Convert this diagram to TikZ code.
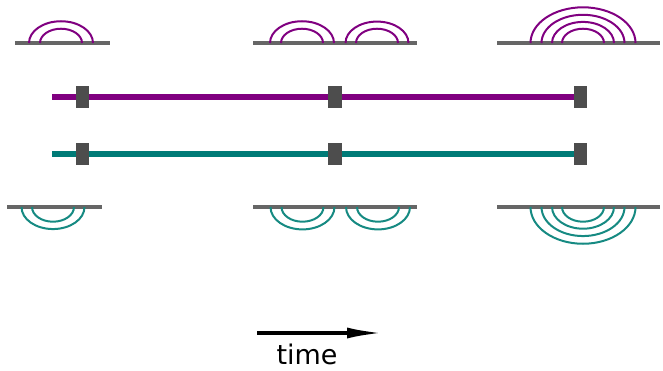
\documentclass[tikz,border=0pt]{standalone}
\usepackage{fontspec}
\setmainfont{DejaVu Sans}
\usetikzlibrary{arrows.meta,backgrounds}
\definecolor{pur}{HTML}{800080}
\definecolor{tea}{HTML}{007B77}
\definecolor{teaarc}{HTML}{168A82}
\definecolor{base}{HTML}{666666}
\definecolor{blk}{HTML}{4D4D4D}
\tikzset{
  baseln/.style={draw=base,line width=3.5pt},
  parc/.style={draw=pur,line width=2pt},
  tarc/.style={draw=teaarc,line width=2pt},
  marker/.style={fill=blk,draw=none,minimum width=13.5pt,minimum height=22pt,inner sep=0pt},
  pbar/.style={draw=pur,line width=6pt},
  tbar/.style={draw=tea,line width=6pt},
}
\begin{document}
\begin{tikzpicture}[x=1pt,y=-1pt]
\useasboundingbox (0,0) rectangle (663,370);
% top arcs (purple)
\draw[baseln] (15,43) -- (110,43);
\foreach \cx/\r in {61/32,61/21}{\draw[parc] (\cx+\r,43) arc[start angle=0,end angle=-180,x radius=\r,y radius=0.68*\r];}
\draw[baseln] (253,43) -- (417,43);
\foreach \cx/\r in {302/32,302/21,377/31.5,377/21}{\draw[parc] (\cx+\r,43) arc[start angle=0,end angle=-180,x radius=\r,y radius=0.68*\r];}
\draw[baseln] (497,43) -- (660,43);
\foreach \cx/\r in {583/52.5,583/41.5,583/31,583/21}{\draw[parc] (\cx+\r,43) arc[start angle=0,end angle=-180,x radius=\r,y radius=0.68*\r];}
% bottom arcs (teal)
\draw[baseln] (7,207) -- (102,207);
\foreach \cx/\r in {53/31.5,53/21}{\draw[tarc] (\cx+\r,207) arc[start angle=0,end angle=180,x radius=\r,y radius=0.7*\r];}
\draw[baseln] (253,207) -- (417,207);
\foreach \cx/\r in {302.5/32,302.5/21,378/32,378/21}{\draw[tarc] (\cx+\r,207) arc[start angle=0,end angle=180,x radius=\r,y radius=0.7*\r];}
\draw[baseln] (497,207) -- (660,207);
\foreach \cx/\r in {583/52.5,583/41.5,583/31,583/21}{\draw[tarc] (\cx+\r,207) arc[start angle=0,end angle=180,x radius=\r,y radius=0.7*\r];}
% timelines
\coordinate (p0) at (52,97);
\coordinate (t0) at (52,154);
\node[marker] (p1) at (82.5,97) {};
\node[marker] (p2) at (335,97) {};
\node[marker] (p3) at (580.5,97) {};
\node[marker] (t1) at (82.5,154) {};
\node[marker] (t2) at (335,154) {};
\node[marker] (t3) at (580.5,154) {};
\begin{pgfonlayer}{background}
\draw[pbar] (p0) -- (p3.center);
\draw[tbar] (t0) -- (t3.center);
\end{pgfonlayer}
% time arrow
\coordinate (a0) at (257,333);
\coordinate (a1) at (383,333);
\draw[line width=3.5pt,-{Latex[length=36pt,width=11pt]}] (a0) -- (a1);
\node[font=\fontsize{27}{30}\selectfont,anchor=base,inner sep=0pt] (time) at (307,364) {time};
\end{tikzpicture}
\end{document}
